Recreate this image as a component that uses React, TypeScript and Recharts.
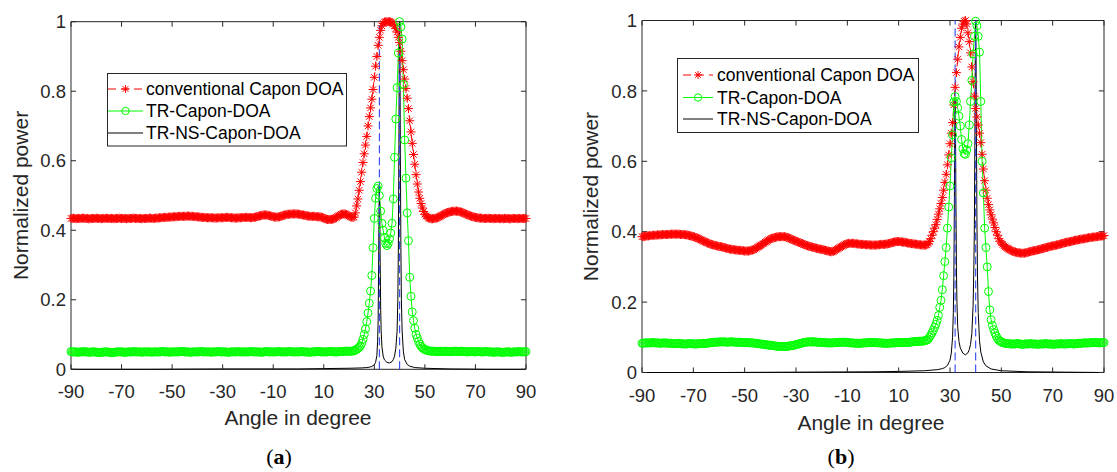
import { LineChart, Line, XAxis, YAxis, ReferenceLine, ReferenceArea } from 'recharts';

const FONT = '"Liberation Sans", Arial, Helvetica, sans-serif';
const AXIS = '#262626';
const RED = '#ff0000';
const GREEN = '#00ff00';
const BLUE = '#2f45f0';

const xTicks = [-90, -70, -50, -30, -10, 10, 30, 50, 70, 90];
const yTicks = [0, 0.2, 0.4, 0.6, 0.8, 1];
// true source directions (blue dashed lines)
const trueAngles = [32, 40];

// scan angles, 0.5 degree step
const angles = [
  -90, -89.5, -89, -88.5, -88, -87.5, -87, -86.5, -86, -85.5,
  -85, -84.5, -84, -83.5, -83, -82.5, -82, -81.5, -81, -80.5,
  -80, -79.5, -79, -78.5, -78, -77.5, -77, -76.5, -76, -75.5,
  -75, -74.5, -74, -73.5, -73, -72.5, -72, -71.5, -71, -70.5,
  -70, -69.5, -69, -68.5, -68, -67.5, -67, -66.5, -66, -65.5,
  -65, -64.5, -64, -63.5, -63, -62.5, -62, -61.5, -61, -60.5,
  -60, -59.5, -59, -58.5, -58, -57.5, -57, -56.5, -56, -55.5,
  -55, -54.5, -54, -53.5, -53, -52.5, -52, -51.5, -51, -50.5,
  -50, -49.5, -49, -48.5, -48, -47.5, -47, -46.5, -46, -45.5,
  -45, -44.5, -44, -43.5, -43, -42.5, -42, -41.5, -41, -40.5,
  -40, -39.5, -39, -38.5, -38, -37.5, -37, -36.5, -36, -35.5,
  -35, -34.5, -34, -33.5, -33, -32.5, -32, -31.5, -31, -30.5,
  -30, -29.5, -29, -28.5, -28, -27.5, -27, -26.5, -26, -25.5,
  -25, -24.5, -24, -23.5, -23, -22.5, -22, -21.5, -21, -20.5,
  -20, -19.5, -19, -18.5, -18, -17.5, -17, -16.5, -16, -15.5,
  -15, -14.5, -14, -13.5, -13, -12.5, -12, -11.5, -11, -10.5,
  -10, -9.5, -9, -8.5, -8, -7.5, -7, -6.5, -6, -5.5,
  -5, -4.5, -4, -3.5, -3, -2.5, -2, -1.5, -1, -0.5,
  0, 0.5, 1, 1.5, 2, 2.5, 3, 3.5, 4, 4.5,
  5, 5.5, 6, 6.5, 7, 7.5, 8, 8.5, 9, 9.5,
  10, 10.5, 11, 11.5, 12, 12.5, 13, 13.5, 14, 14.5,
  15, 15.5, 16, 16.5, 17, 17.5, 18, 18.5, 19, 19.5,
  20, 20.5, 21, 21.5, 22, 22.5, 23, 23.5, 24, 24.5,
  25, 25.5, 26, 26.5, 27, 27.5, 28, 28.5, 29, 29.5,
  30, 30.5, 31, 31.5, 32, 32.5, 33, 33.5, 34, 34.5,
  35, 35.5, 36, 36.5, 37, 37.5, 38, 38.5, 39, 39.5,
  40, 40.5, 41, 41.5, 42, 42.5, 43, 43.5, 44, 44.5,
  45, 45.5, 46, 46.5, 47, 47.5, 48, 48.5, 49, 49.5,
  50, 50.5, 51, 51.5, 52, 52.5, 53, 53.5, 54, 54.5,
  55, 55.5, 56, 56.5, 57, 57.5, 58, 58.5, 59, 59.5,
  60, 60.5, 61, 61.5, 62, 62.5, 63, 63.5, 64, 64.5,
  65, 65.5, 66, 66.5, 67, 67.5, 68, 68.5, 69, 69.5,
  70, 70.5, 71, 71.5, 72, 72.5, 73, 73.5, 74, 74.5,
  75, 75.5, 76, 76.5, 77, 77.5, 78, 78.5, 79, 79.5,
  80, 80.5, 81, 81.5, 82, 82.5, 83, 83.5, 84, 84.5,
  85, 85.5, 86, 86.5, 87, 87.5, 88, 88.5, 89, 89.5,
  90,
];

// (a) conventional Capon DOA
const caponA = [
  0.434, 0.434, 0.435, 0.434, 0.433, 0.434, 0.434, 0.434, 0.434, 0.435,
  0.435, 0.434, 0.434, 0.434, 0.433, 0.433, 0.434, 0.434, 0.434, 0.434,
  0.435, 0.434, 0.434, 0.434, 0.433, 0.434, 0.434, 0.434, 0.435, 0.434,
  0.434, 0.434, 0.434, 0.434, 0.433, 0.434, 0.434, 0.434, 0.435, 0.434,
  0.434, 0.434, 0.434, 0.434, 0.433, 0.434, 0.434, 0.434, 0.434, 0.435,
  0.435, 0.434, 0.434, 0.434, 0.434, 0.434, 0.433, 0.434, 0.434, 0.434,
  0.434, 0.434, 0.435, 0.435, 0.434, 0.434, 0.434, 0.435, 0.435, 0.435,
  0.436, 0.436, 0.436, 0.437, 0.437, 0.437, 0.437, 0.438, 0.438, 0.438,
  0.438, 0.439, 0.439, 0.439, 0.439, 0.44, 0.44, 0.44, 0.44, 0.44,
  0.44, 0.44, 0.441, 0.441, 0.44, 0.44, 0.44, 0.44, 0.439, 0.439,
  0.439, 0.438, 0.438, 0.437, 0.437, 0.437, 0.437, 0.436, 0.436, 0.436,
  0.436, 0.436, 0.436, 0.435, 0.435, 0.435, 0.436, 0.436, 0.436, 0.436,
  0.436, 0.436, 0.437, 0.437, 0.437, 0.437, 0.436, 0.436, 0.436, 0.435,
  0.435, 0.435, 0.436, 0.436, 0.436, 0.436, 0.437, 0.437, 0.437, 0.437,
  0.437, 0.437, 0.436, 0.436, 0.437, 0.437, 0.438, 0.439, 0.44, 0.441,
  0.442, 0.443, 0.444, 0.444, 0.444, 0.444, 0.443, 0.442, 0.441, 0.44,
  0.439, 0.438, 0.438, 0.438, 0.438, 0.439, 0.44, 0.441, 0.443, 0.444,
  0.445, 0.446, 0.446, 0.446, 0.447, 0.447, 0.447, 0.447, 0.447, 0.447,
  0.446, 0.446, 0.445, 0.444, 0.444, 0.443, 0.442, 0.441, 0.441, 0.44,
  0.44, 0.44, 0.44, 0.44, 0.439, 0.439, 0.439, 0.438, 0.438, 0.437,
  0.435, 0.433, 0.432, 0.431, 0.431, 0.431, 0.431, 0.432, 0.433, 0.435,
  0.437, 0.44, 0.442, 0.444, 0.446, 0.447, 0.447, 0.447, 0.445, 0.443,
  0.441, 0.439, 0.438, 0.437, 0.438, 0.45, 0.47, 0.49, 0.515, 0.54,
  0.567, 0.595, 0.62, 0.645, 0.67, 0.7, 0.727, 0.752, 0.777, 0.805,
  0.84, 0.872, 0.9, 0.932, 0.955, 0.975, 0.988, 0.995, 0.999, 1.0,
  1.0, 1.0, 1.0, 0.999, 0.997, 0.993, 0.988, 0.98, 0.97, 0.955,
  0.94, 0.915, 0.888, 0.862, 0.835, 0.808, 0.78, 0.75, 0.715, 0.683,
  0.65, 0.618, 0.59, 0.56, 0.533, 0.51, 0.492, 0.477, 0.464, 0.454,
  0.446, 0.441, 0.438, 0.435, 0.434, 0.433, 0.433, 0.434, 0.434, 0.435,
  0.436, 0.438, 0.44, 0.442, 0.444, 0.446, 0.448, 0.45, 0.451, 0.452,
  0.453, 0.454, 0.455, 0.455, 0.455, 0.455, 0.455, 0.454, 0.453, 0.452,
  0.45, 0.449, 0.447, 0.446, 0.444, 0.443, 0.441, 0.44, 0.439, 0.438,
  0.437, 0.436, 0.436, 0.435, 0.435, 0.435, 0.434, 0.434, 0.434, 0.434,
  0.435, 0.434, 0.434, 0.434, 0.433, 0.434, 0.434, 0.434, 0.434, 0.434,
  0.433, 0.434, 0.433, 0.434, 0.434, 0.434, 0.434, 0.433, 0.433, 0.434,
  0.434, 0.434, 0.434, 0.433, 0.434, 0.434, 0.434, 0.434, 0.434, 0.434,
  0.434,
];

// (a) TR-Capon-DOA
const trA = [
  0.051, 0.05, 0.05, 0.05, 0.05, 0.049, 0.049, 0.05, 0.05, 0.05,
  0.051, 0.05, 0.05, 0.05, 0.049, 0.049, 0.05, 0.05, 0.05, 0.05,
  0.049, 0.049, 0.048, 0.048, 0.049, 0.049, 0.05, 0.05, 0.05, 0.05,
  0.049, 0.049, 0.048, 0.048, 0.049, 0.049, 0.05, 0.05, 0.05, 0.05,
  0.05, 0.05, 0.049, 0.049, 0.049, 0.05, 0.05, 0.05, 0.05, 0.05,
  0.051, 0.05, 0.05, 0.05, 0.05, 0.05, 0.049, 0.05, 0.05, 0.05,
  0.05, 0.05, 0.05, 0.05, 0.049, 0.05, 0.05, 0.05, 0.05, 0.05,
  0.05, 0.05, 0.051, 0.051, 0.05, 0.05, 0.05, 0.05, 0.049, 0.05,
  0.05, 0.05, 0.05, 0.05, 0.05, 0.05, 0.051, 0.051, 0.051, 0.051,
  0.05, 0.05, 0.05, 0.05, 0.049, 0.049, 0.05, 0.05, 0.05, 0.05,
  0.05, 0.05, 0.051, 0.051, 0.05, 0.05, 0.05, 0.05, 0.05, 0.05,
  0.05, 0.049, 0.05, 0.05, 0.05, 0.05, 0.051, 0.051, 0.05, 0.05,
  0.05, 0.05, 0.05, 0.05, 0.049, 0.049, 0.05, 0.05, 0.05, 0.05,
  0.05, 0.05, 0.051, 0.05, 0.05, 0.05, 0.05, 0.05, 0.05, 0.05,
  0.05, 0.05, 0.051, 0.051, 0.05, 0.05, 0.05, 0.05, 0.05, 0.05,
  0.049, 0.049, 0.05, 0.05, 0.051, 0.051, 0.05, 0.05, 0.05, 0.05,
  0.05, 0.05, 0.05, 0.05, 0.051, 0.051, 0.05, 0.05, 0.05, 0.05,
  0.05, 0.05, 0.051, 0.051, 0.05, 0.05, 0.05, 0.05, 0.05, 0.05,
  0.05, 0.05, 0.051, 0.051, 0.05, 0.05, 0.05, 0.05, 0.049, 0.049,
  0.05, 0.05, 0.05, 0.05, 0.051, 0.051, 0.051, 0.051, 0.05, 0.05,
  0.05, 0.05, 0.05, 0.05, 0.051, 0.051, 0.051, 0.051, 0.05, 0.05,
  0.05, 0.05, 0.051, 0.051, 0.051, 0.051, 0.052, 0.052, 0.052, 0.052,
  0.052, 0.052, 0.052, 0.053, 0.053, 0.055, 0.057, 0.06, 0.063, 0.067,
  0.075, 0.086, 0.1, 0.116, 0.137, 0.162, 0.19, 0.225, 0.27, 0.35,
  0.434, 0.492, 0.52, 0.527, 0.5, 0.455, 0.42, 0.4, 0.378, 0.362,
  0.356, 0.362, 0.375, 0.392, 0.42, 0.49, 0.61, 0.72, 0.81, 0.91,
  1.0, 0.985, 0.95, 0.82, 0.66, 0.55, 0.45, 0.37, 0.265, 0.21,
  0.165, 0.14, 0.118, 0.1, 0.09, 0.08, 0.072, 0.066, 0.062, 0.059,
  0.057, 0.055, 0.054, 0.053, 0.053, 0.052, 0.052, 0.052, 0.052, 0.051,
  0.051, 0.051, 0.052, 0.052, 0.051, 0.051, 0.052, 0.052, 0.051, 0.051,
  0.051, 0.051, 0.051, 0.052, 0.052, 0.052, 0.051, 0.051, 0.052, 0.052,
  0.051, 0.051, 0.051, 0.05, 0.05, 0.051, 0.051, 0.051, 0.051, 0.05,
  0.05, 0.051, 0.051, 0.051, 0.05, 0.05, 0.05, 0.05, 0.051, 0.051,
  0.05, 0.05, 0.05, 0.05, 0.049, 0.049, 0.05, 0.05, 0.05, 0.05,
  0.049, 0.049, 0.049, 0.049, 0.05, 0.05, 0.05, 0.05, 0.049, 0.049,
  0.05, 0.05, 0.05, 0.05, 0.051, 0.051, 0.05, 0.05, 0.05, 0.05,
  0.051,
];

// (b) conventional Capon DOA
const caponB = [
  0.386, 0.386, 0.387, 0.387, 0.388, 0.388, 0.389, 0.389, 0.39, 0.39,
  0.39, 0.39, 0.391, 0.391, 0.391, 0.391, 0.392, 0.392, 0.392, 0.392,
  0.392, 0.392, 0.393, 0.393, 0.393, 0.393, 0.393, 0.393, 0.393, 0.393,
  0.392, 0.392, 0.392, 0.392, 0.391, 0.391, 0.39, 0.389, 0.388, 0.387,
  0.386, 0.385, 0.383, 0.382, 0.38, 0.379, 0.377, 0.375, 0.373, 0.372,
  0.37, 0.368, 0.367, 0.365, 0.364, 0.363, 0.362, 0.361, 0.36, 0.359,
  0.358, 0.358, 0.357, 0.356, 0.355, 0.354, 0.353, 0.352, 0.351, 0.35,
  0.35, 0.349, 0.349, 0.348, 0.348, 0.347, 0.347, 0.347, 0.346, 0.346,
  0.345, 0.345, 0.345, 0.345, 0.346, 0.347, 0.348, 0.349, 0.351, 0.353,
  0.356, 0.358, 0.36, 0.362, 0.365, 0.367, 0.37, 0.372, 0.375, 0.377,
  0.379, 0.381, 0.382, 0.383, 0.384, 0.385, 0.386, 0.386, 0.386, 0.386,
  0.386, 0.386, 0.385, 0.384, 0.383, 0.381, 0.379, 0.378, 0.376, 0.375,
  0.373, 0.372, 0.37, 0.369, 0.367, 0.366, 0.364, 0.363, 0.361, 0.36,
  0.359, 0.358, 0.357, 0.356, 0.355, 0.354, 0.353, 0.352, 0.351, 0.35,
  0.35, 0.349, 0.348, 0.347, 0.346, 0.345, 0.344, 0.343, 0.343, 0.344,
  0.346, 0.348, 0.35, 0.353, 0.355, 0.357, 0.359, 0.361, 0.363, 0.365,
  0.366, 0.367, 0.367, 0.367, 0.367, 0.367, 0.366, 0.366, 0.365, 0.365,
  0.364, 0.364, 0.364, 0.364, 0.363, 0.363, 0.363, 0.363, 0.362, 0.362,
  0.362, 0.362, 0.362, 0.362, 0.363, 0.363, 0.364, 0.364, 0.364, 0.364,
  0.365, 0.365, 0.366, 0.367, 0.368, 0.369, 0.37, 0.371, 0.372, 0.372,
  0.372, 0.372, 0.371, 0.371, 0.37, 0.37, 0.369, 0.368, 0.367, 0.367,
  0.366, 0.366, 0.365, 0.365, 0.364, 0.364, 0.363, 0.363, 0.362, 0.362,
  0.362, 0.362, 0.363, 0.366, 0.372, 0.38, 0.39, 0.4, 0.41, 0.42,
  0.435, 0.45, 0.465, 0.48, 0.497, 0.518, 0.54, 0.563, 0.59, 0.618,
  0.65, 0.68, 0.71, 0.76, 0.81, 0.852, 0.89, 0.925, 0.952, 0.978,
  0.99, 0.998, 1.0, 0.99, 0.965, 0.94, 0.908, 0.868, 0.826, 0.785,
  0.75, 0.726, 0.703, 0.68, 0.653, 0.62, 0.578, 0.545, 0.518, 0.495,
  0.477, 0.462, 0.448, 0.436, 0.425, 0.412, 0.4, 0.39, 0.38, 0.373,
  0.368, 0.364, 0.36, 0.357, 0.354, 0.352, 0.35, 0.348, 0.346, 0.344,
  0.343, 0.342, 0.341, 0.34, 0.34, 0.339, 0.339, 0.339, 0.339, 0.34,
  0.341, 0.342, 0.343, 0.344, 0.345, 0.346, 0.346, 0.347, 0.348, 0.349,
  0.35, 0.351, 0.352, 0.353, 0.354, 0.355, 0.356, 0.357, 0.358, 0.359,
  0.36, 0.36, 0.361, 0.362, 0.363, 0.364, 0.365, 0.366, 0.367, 0.368,
  0.369, 0.37, 0.371, 0.371, 0.372, 0.373, 0.374, 0.375, 0.376, 0.376,
  0.377, 0.378, 0.379, 0.379, 0.38, 0.38, 0.381, 0.382, 0.383, 0.383,
  0.384, 0.384, 0.385, 0.385, 0.386, 0.386, 0.387, 0.387, 0.388, 0.388,
  0.389,
];

// (b) TR-Capon-DOA
const trB = [
  0.083, 0.083, 0.084, 0.084, 0.084, 0.084, 0.084, 0.084, 0.085, 0.085,
  0.084, 0.084, 0.084, 0.084, 0.083, 0.083, 0.084, 0.084, 0.084, 0.084,
  0.083, 0.083, 0.083, 0.083, 0.082, 0.082, 0.082, 0.082, 0.083, 0.083,
  0.082, 0.082, 0.081, 0.081, 0.081, 0.081, 0.082, 0.082, 0.082, 0.082,
  0.081, 0.081, 0.081, 0.081, 0.082, 0.082, 0.082, 0.082, 0.083, 0.083,
  0.083, 0.083, 0.084, 0.084, 0.085, 0.085, 0.086, 0.086, 0.086, 0.086,
  0.087, 0.087, 0.087, 0.087, 0.087, 0.087, 0.086, 0.086, 0.087, 0.087,
  0.087, 0.087, 0.086, 0.086, 0.086, 0.086, 0.086, 0.086, 0.085, 0.085,
  0.085, 0.085, 0.085, 0.085, 0.084, 0.084, 0.084, 0.084, 0.083, 0.083,
  0.082, 0.082, 0.081, 0.081, 0.08, 0.08, 0.079, 0.079, 0.078, 0.078,
  0.077, 0.077, 0.076, 0.076, 0.075, 0.075, 0.074, 0.074, 0.074, 0.074,
  0.074, 0.074, 0.074, 0.074, 0.075, 0.075, 0.076, 0.076, 0.077, 0.078,
  0.079, 0.08, 0.081, 0.082, 0.083, 0.084, 0.085, 0.086, 0.086, 0.087,
  0.087, 0.087, 0.087, 0.087, 0.087, 0.087, 0.086, 0.086, 0.086, 0.086,
  0.085, 0.085, 0.085, 0.085, 0.084, 0.084, 0.084, 0.084, 0.084, 0.084,
  0.085, 0.085, 0.085, 0.085, 0.086, 0.086, 0.086, 0.086, 0.086, 0.086,
  0.085, 0.085, 0.084, 0.084, 0.084, 0.084, 0.083, 0.083, 0.083, 0.083,
  0.083, 0.083, 0.084, 0.084, 0.084, 0.084, 0.085, 0.085, 0.085, 0.085,
  0.085, 0.085, 0.085, 0.085, 0.084, 0.084, 0.084, 0.084, 0.083, 0.083,
  0.083, 0.083, 0.083, 0.083, 0.084, 0.084, 0.084, 0.084, 0.085, 0.085,
  0.085, 0.085, 0.085, 0.085, 0.085, 0.085, 0.085, 0.085, 0.086, 0.086,
  0.087, 0.087, 0.088, 0.088, 0.088, 0.088, 0.089, 0.089, 0.089, 0.089,
  0.09, 0.091, 0.092, 0.095, 0.1, 0.106, 0.113, 0.12, 0.128, 0.137,
  0.148, 0.162, 0.185, 0.205, 0.235, 0.275, 0.315, 0.355, 0.41, 0.47,
  0.53, 0.61, 0.675, 0.769, 0.784, 0.77, 0.752, 0.728, 0.7, 0.662,
  0.636, 0.622, 0.62, 0.632, 0.65, 0.703, 0.77, 0.83, 0.905, 0.955,
  0.998, 0.985, 0.955, 0.91, 0.77, 0.6, 0.51, 0.41, 0.355, 0.3,
  0.23, 0.178, 0.15, 0.134, 0.122, 0.112, 0.104, 0.097, 0.092, 0.089,
  0.087, 0.085, 0.084, 0.083, 0.082, 0.082, 0.082, 0.081, 0.081, 0.081,
  0.081, 0.081, 0.082, 0.082, 0.081, 0.081, 0.08, 0.08, 0.081, 0.081,
  0.081, 0.081, 0.082, 0.082, 0.081, 0.081, 0.081, 0.081, 0.08, 0.08,
  0.081, 0.081, 0.081, 0.081, 0.082, 0.082, 0.081, 0.081, 0.081, 0.081,
  0.08, 0.08, 0.081, 0.081, 0.081, 0.081, 0.082, 0.082, 0.081, 0.081,
  0.081, 0.081, 0.082, 0.082, 0.082, 0.082, 0.081, 0.081, 0.082, 0.082,
  0.083, 0.083, 0.083, 0.083, 0.084, 0.084, 0.084, 0.084, 0.084, 0.084,
  0.085, 0.085, 0.085, 0.085, 0.085, 0.085, 0.084, 0.084, 0.085, 0.085,
  0.085,
];

// TR-NS-Capon-DOA has no markers, so it is sampled densely only at the peaks
const nsAngles = [
  -90, -60, -30, 0, 10, 20, 25, 27, 28, 29,
  30, 30.5, 31, 31.3, 31.5, 31.7, 31.85, 32, 32.15, 32.3,
  32.5, 32.7, 33, 33.5, 34, 35, 36, 37, 37.5, 38,
  38.5, 39, 39.3, 39.5, 39.7, 39.85, 40, 40.15, 40.3, 40.5,
  40.7, 41, 41.5, 42, 43, 44, 46, 50, 60, 75, 90,
];
const nsA = [
  0, 0, 0.001, 0.001, 0.002, 0.003, 0.004, 0.005, 0.006, 0.008,
  0.013, 0.02, 0.04, 0.08, 0.14, 0.3, 0.46, 0.53, 0.46, 0.32,
  0.18, 0.11, 0.065, 0.038, 0.027, 0.02, 0.018, 0.022, 0.028, 0.038,
  0.06, 0.11, 0.2, 0.34, 0.6, 0.88, 1.0, 0.88, 0.62, 0.35,
  0.2, 0.11, 0.05, 0.028, 0.014, 0.009, 0.005, 0.003, 0.001, 0, 0,
];
const nsB = [
  0, 0, 0.001, 0.002, 0.003, 0.005, 0.008, 0.011, 0.014, 0.02,
  0.035, 0.055, 0.1, 0.17, 0.27, 0.48, 0.68, 0.775, 0.68, 0.5,
  0.3, 0.2, 0.13, 0.088, 0.07, 0.055, 0.05, 0.056, 0.065, 0.08,
  0.11, 0.19, 0.3, 0.42, 0.66, 0.9, 1.0, 0.9, 0.68, 0.43,
  0.28, 0.17, 0.09, 0.058, 0.03, 0.019, 0.01, 0.005, 0.002, 0.001, 0,
];

const seriesNames = ['conventional Capon DOA', 'TR-Capon-DOA', 'TR-NS-Capon-DOA'];

const TICK_FONT = 18.5;

function Asterisk({ cx, cy, r = 4.5 }: { cx: number; cy: number; r?: number }) {
  const d = r * 0.71;
  return (
    <g stroke={RED} strokeWidth={1}>
      <line x1={cx - r} y1={cy} x2={cx + r} y2={cy} />
      <line x1={cx} y1={cy - r} x2={cx} y2={cy + r} />
      <line x1={cx - d} y1={cy - d} x2={cx + d} y2={cy + d} />
      <line x1={cx - d} y1={cy + d} x2={cx + d} y2={cy - d} />
    </g>
  );
}

const renderAsterisk = (p: any) =>
  p.cx == null ? <g key={`a-${p.index}`} /> : <Asterisk key={`a-${p.index}`} cx={p.cx} cy={p.cy} />;

const renderCircle = (p: any) =>
  p.cx == null ? (
    <g key={`c-${p.index}`} />
  ) : (
    <circle key={`c-${p.index}`} cx={p.cx} cy={p.cy} r={4} fill="none" stroke={GREEN} strokeWidth={1} />
  );

const renderXTick = (p: any) => (
  <text
    key={`xt-${p.index}`}
    x={p.x}
    y={p.y}
    dy="0.71em"
    textAnchor="middle"
    fill={AXIS}
    fontSize={TICK_FONT}
    fontFamily={FONT}
  >
    {p.payload.value}
  </text>
);

const renderYTick = (p: any) => (
  <text
    key={`yt-${p.index}`}
    x={p.x}
    y={p.y}
    dy="0.36em"
    textAnchor="end"
    fill={AXIS}
    fontSize={TICK_FONT}
    fontFamily={FONT}
  >
    {p.payload.value}
  </text>
);

interface PanelProps {
  left: number;
  width: number;
  margin: { top: number; right: number; bottom: number; left: number };
  tickMargin: number;
  capon: number[];
  tr: number[];
  ns: number[];
}

function Panel({ left, width, margin, tickMargin, capon, tr, ns }: PanelProps) {
  const data = angles.map((a, i) => ({ angle: a, capon: capon[i], tr: tr[i] }));
  const nsData = nsAngles.map((a, i) => ({ angle: a, ns: ns[i] }));
  return (
    <div style={{ position: 'absolute', left, top: 0 }}>
      <LineChart width={width} height={472} data={data} margin={margin}>
        <XAxis
          dataKey="angle"
          type="number"
          domain={[-90, 90]}
          ticks={xTicks}
          height={30}
          tickSize={0}
          tickMargin={tickMargin}
          axisLine={false}
          tickLine={false}
          tick={renderXTick}
          interval={0}
        />
        <YAxis
          type="number"
          domain={[0, 1]}
          ticks={yTicks}
          width={40}
          tickSize={0}
          tickMargin={5}
          axisLine={false}
          tickLine={false}
          tick={renderYTick}
          interval={0}
        />
        <Line
          dataKey="capon"
          stroke={RED}
          strokeWidth={1}
          strokeDasharray="6 4"
          dot={renderAsterisk}
          activeDot={false}
          isAnimationActive={false}
        />
        <Line
          dataKey="tr"
          stroke={GREEN}
          strokeWidth={1}
          dot={renderCircle}
          activeDot={false}
          isAnimationActive={false}
        />
        <Line
          data={nsData}
          dataKey="ns"
          stroke="#000"
          strokeWidth={1}
          dot={false}
          activeDot={false}
          isAnimationActive={false}
        />
        {trueAngles.map((a) => (
          <ReferenceLine key={`t-${a}`} x={a} stroke={BLUE} strokeWidth={1.1} strokeDasharray="8 4" />
        ))}
        <ReferenceArea x1={-90} x2={90} y1={0} y2={1} fill="none" fillOpacity={0} stroke={AXIS} strokeWidth={1} />
        {xTicks.map((t) => (
          <ReferenceLine key={`xb-${t}`} segment={[{ x: t, y: 0 }, { x: t, y: 0.0144 }]} stroke={AXIS} />
        ))}
        {xTicks.map((t) => (
          <ReferenceLine key={`xt-${t}`} segment={[{ x: t, y: 1 }, { x: t, y: 0.9856 }]} stroke={AXIS} />
        ))}
        {yTicks.map((t) => (
          <ReferenceLine key={`yl-${t}`} segment={[{ x: -90, y: t }, { x: -88, y: t }]} stroke={AXIS} />
        ))}
        {yTicks.map((t) => (
          <ReferenceLine key={`yr-${t}`} segment={[{ x: 90, y: t }, { x: 88, y: t }]} stroke={AXIS} />
        ))}
      </LineChart>
    </div>
  );
}

function LegendBox({ x, y, w, h, lineX1, lineX2, textX, rows }: {
  x: number; y: number; w: number; h: number; lineX1: number; lineX2: number; textX: number; rows: number[];
}) {
  const mid = (lineX1 + lineX2) / 2;
  return (
    <g>
      <rect x={x} y={y} width={w} height={h} fill="#fff" stroke={AXIS} strokeWidth={1} />
      <line x1={lineX1} y1={rows[0]} x2={lineX2} y2={rows[0]} stroke={RED} strokeDasharray="8 5" />
      <Asterisk cx={mid} cy={rows[0]} r={4} />
      <line x1={lineX1} y1={rows[1]} x2={lineX2} y2={rows[1]} stroke={GREEN} />
      <circle cx={mid} cy={rows[1]} r={3.7} fill="none" stroke={GREEN} />
      <line x1={lineX1} y1={rows[2]} x2={lineX2} y2={rows[2]} stroke="#000" />
      {seriesNames.map((s, i) => (
        <text key={s} x={textX} y={rows[i]} dy="0.36em" fontSize={17.5} fontFamily={FONT} fill="#000">
          {s}
        </text>
      ))}
    </g>
  );
}

export default function App() {
  const titleStyle = { fontSize: 21, fontFamily: FONT, fill: AXIS };
  const capStyle = { fontSize: 22, fontFamily: '"Liberation Serif", "Times New Roman", serif', fill: '#000' };
  return (
    <div style={{ position: 'relative', width: 1117, height: 472, background: '#fff', overflow: 'hidden' }}>
      <style>{'body{margin:0}'}</style>
      <Panel
        left={0}
        width={560}
        margin={{ top: 21.7, right: 34, bottom: 72.7, left: 31 }}
        tickMargin={16}
        capon={caponA}
        tr={trA}
        ns={nsA}
      />
      <Panel
        left={560}
        width={557}
        margin={{ top: 20.5, right: 13, bottom: 69.5, left: 42 }}
        tickMargin={16}
        capon={caponB}
        tr={trB}
        ns={nsB}
      />
      <svg
        width={1117}
        height={472}
        style={{ position: 'absolute', left: 0, top: 0, pointerEvents: 'none' }}
      >
        <LegendBox x={107.5} y={73.5} w={239} h={72.5} lineX1={108} lineX2={143} textX={146} rows={[89, 111, 133]} />
        <LegendBox x={677.5} y={58.5} w={241} h={74} lineX1={683} lineX2={713} textX={717} rows={[75, 97.5, 119]} />

        <text x={20} y={195.5} transform="rotate(-90 20 195.5)" textAnchor="middle" dy="0.36em" {...titleStyle}>
          Normalized power
        </text>
        <text x={590} y={196.5} transform="rotate(-90 590 196.5)" textAnchor="middle" dy="0.36em" {...titleStyle}>
          Normalized power
        </text>
        <text x={298} y={425} textAnchor="middle" {...titleStyle}>
          Angle in degree
        </text>
        <text x={871} y={430} textAnchor="middle" {...titleStyle}>
          Angle in degree
        </text>

        <text x={279} y={464} textAnchor="middle" {...capStyle}>
          (<tspan fontWeight="bold">a</tspan>)
        </text>
        <text x={841} y={464} textAnchor="middle" {...capStyle}>
          (<tspan fontWeight="bold">b</tspan>)
        </text>
      </svg>
    </div>
  );
}
